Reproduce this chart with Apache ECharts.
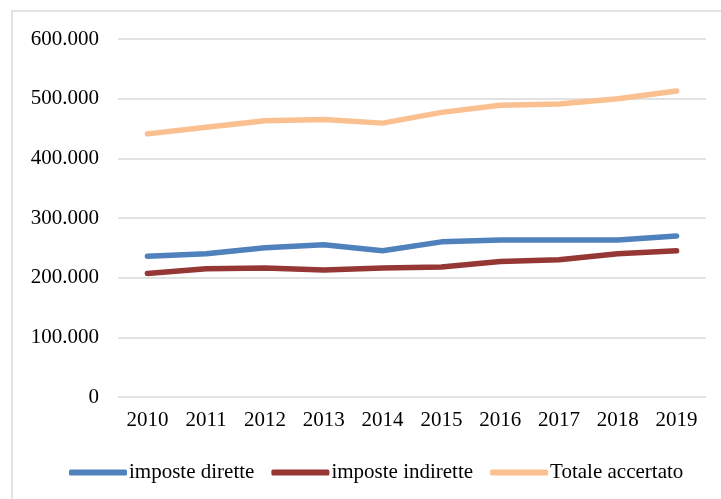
<!DOCTYPE html>
<html>
<head>
<meta charset="utf-8">
<script src="https://cdn.jsdelivr.net/npm/echarts@6/dist/echarts.min.js"></script>
<style>
  html, body { margin: 0; padding: 0; background: #fff; }
  #chart { width: 721px; height: 499px; }
</style>
</head>
<body>
<div id="chart"></div>
<script>
const years = ["2010", "2011", "2012", "2013", "2014", "2015", "2016", "2017", "2018", "2019"];
const imposteDirette = [236000, 240000, 250000, 255000, 245000, 260000, 263000, 263000, 263000, 270000];
const imposteIndirette = [207000, 215000, 216000, 213000, 216000, 218000, 227000, 230000, 240000, 245000];
const totaleAccertato = [441000, 452000, 463000, 465000, 459000, 477000, 489000, 491000, 500000, 513000];

const font = "Liberation Serif";

function fmt(v) {
  return String(v).replace(/\B(?=(\d{3})+(?!\d))/g, ".");
}

const chart = echarts.init(document.getElementById("chart"));

function line(name, data, color) {
  return {
    name: name,
    type: "line",
    data: data,
    showSymbol: false,
    symbol: "none",
    lineStyle: { color: color, width: 5.5, cap: "round", join: "round" },
    itemStyle: { color: color },
  };
}

chart.setOption({
  animation: false,
  graphic: [
    {
      type: "rect",
      shape: { x: 12, y: 11, width: 720, height: 500 },
      style: { fill: null, stroke: "#d9d9d9", lineWidth: 1.5 },
    },
  ],
  grid: { left: 118, right: 15, top: 39, bottom: 102 },
  legend: {
    left: 64,
    top: 457,
    icon: "roundRect",
    itemWidth: 58,
    itemHeight: 6,
    itemGap: 17,
    textStyle: { fontFamily: font, fontSize: 21, color: "#000", padding: [0, 0, 0, -3] },
  },
  xAxis: {
    type: "category",
    data: years,
    axisLine: { show: false },
    axisTick: { show: false },
    axisLabel: { fontFamily: font, fontSize: 21, color: "#000", margin: 13 },
  },
  yAxis: {
    type: "value",
    min: 0,
    max: 600000,
    interval: 100000,
    axisLine: { show: false },
    axisTick: { show: false },
    splitLine: { lineStyle: { color: "#d9d9d9", width: 1.5 } },
    axisLabel: {
      fontFamily: font,
      fontSize: 21,
      color: "#000",
      margin: 19,
      formatter: fmt,
    },
  },
  series: [
    line("imposte dirette", imposteDirette, "#4f81bd"),
    line("imposte indirette", imposteIndirette, "#953735"),
    line("Totale accertato", totaleAccertato, "#fac090"),
  ],
});
</script>
</body>
</html>
